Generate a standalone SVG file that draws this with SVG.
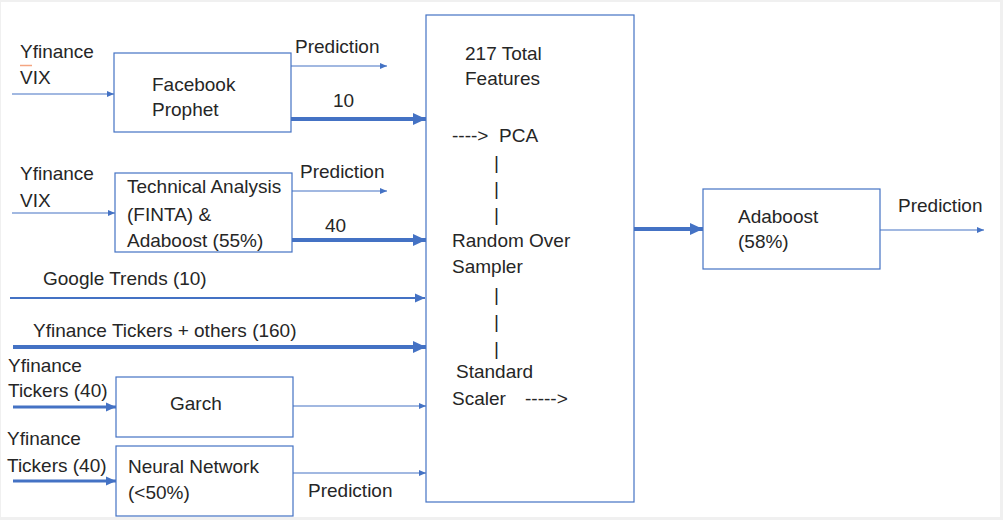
<svg xmlns="http://www.w3.org/2000/svg" width="1003" height="520" viewBox="0 0 1003 520">
<style>
text{font-family:"Liberation Sans",Arial,sans-serif;font-size:19px;fill:#262626}
.box{fill:#fff;stroke:#4472c4;stroke-width:1.2}
.thin{stroke:#4472c4;stroke-width:1.2;fill:none;marker-end:url(#ah1)}
.med{stroke:#4472c4;stroke-width:2.2;fill:none;marker-end:url(#ah2)}
.med3{stroke:#4472c4;stroke-width:3;fill:none;marker-end:url(#ah2)}
.thick{stroke:#4472c4;stroke-width:4;fill:none;marker-end:url(#ah3)}
</style>
<defs>
<marker id="ah1" markerUnits="userSpaceOnUse" markerWidth="8" markerHeight="8" refX="7" refY="4" orient="auto"><path d="M0,1 L7,4 L0,7 Z" fill="#4472c4"/></marker>
<marker id="ah2" markerUnits="userSpaceOnUse" markerWidth="11" markerHeight="11" refX="10" refY="5.5" orient="auto"><path d="M0,1 L10,5.5 L0,10 Z" fill="#4472c4"/></marker>
<marker id="ah3" markerUnits="userSpaceOnUse" markerWidth="14" markerHeight="14" refX="13" refY="7" orient="auto"><path d="M0,1 L13,7 L0,13 Z" fill="#4472c4"/></marker>
</defs>
<rect x="0" y="0" width="1003" height="520" fill="#f0f0f0"/>
<rect x="1" y="2" width="999" height="515" fill="#fff"/>

<g id="connectors">
<line class="thin" x1="12" y1="94" x2="114" y2="94"/>
<line class="thin" x1="291" y1="66" x2="387" y2="66"/>
<line class="thick" x1="291" y1="119" x2="426" y2="119"/>
<line class="thin" x1="12" y1="213" x2="115" y2="213"/>
<line class="thin" x1="292" y1="191" x2="387" y2="191"/>
<line class="thick" x1="292" y1="240" x2="426" y2="240"/>
<line class="med" x1="10" y1="298" x2="425" y2="298"/>
<line class="thick" x1="13" y1="347" x2="426" y2="347"/>
<line class="med3" x1="13" y1="407" x2="116" y2="407"/>
<line class="thin" x1="293" y1="406" x2="426" y2="406"/>
<line class="med3" x1="13" y1="481" x2="116" y2="481"/>
<line class="thin" x1="293" y1="473" x2="426" y2="473"/>
<line class="thick" x1="634" y1="229" x2="703" y2="229"/>
<line class="thin" x1="880" y1="230" x2="984" y2="230"/>
</g>

<g id="labels">
<text x="20" y="58">Yfinance</text>
<line x1="20" y1="65.5" x2="32" y2="65.5" stroke="#f4a582" stroke-width="1.5"/>
<text x="20" y="84">VIX</text>
<text x="295" y="53">Prediction</text>
<text x="333" y="107">10</text>
<text x="20" y="180">Yfinance</text>
<text x="20" y="207">VIX</text>
<text x="300" y="178">Prediction</text>
<text x="325" y="232">40</text>
<text x="43" y="285">Google Trends (10)</text>
<text x="33" y="337">Yfinance Tickers + others (160)</text>
<text x="8" y="372">Yfinance</text>
<text x="8" y="397">Tickers (40)</text>
<text x="7" y="445">Yfinance</text>
<text x="7" y="472">Tickers (40)</text>
<text x="308" y="497">Prediction</text>
<text x="898" y="212">Prediction</text>
</g>

<g id="facebook-prophet">
<rect class="box" x="114" y="53" width="177" height="79"/>
<text x="152" y="91">Facebook</text>
<text x="152" y="116">Prophet</text>
</g>

<g id="technical-analysis">
<rect class="box" x="115" y="173" width="177" height="79"/>
<text x="127" y="193">Technical Analysis</text>
<text x="127" y="221">(FINTA) &amp;</text>
<text x="127" y="247">Adaboost (55%)</text>
</g>

<g id="garch">
<rect class="box" x="116" y="377" width="177" height="60"/>
<text x="170" y="410">Garch</text>
</g>

<g id="neural-network">
<rect class="box" x="116" y="446" width="177" height="70"/>
<text x="128" y="473">Neural Network</text>
<text x="128" y="499">(&lt;50%)</text>
</g>

<g id="features">
<rect class="box" x="426" y="15" width="208" height="487"/>
<text x="465" y="60">217 Total</text>
<text x="465" y="85">Features</text>
<text x="452" y="142">----&gt;</text>
<text x="499" y="142">PCA</text>
<text x="494" y="169">|</text>
<text x="494" y="195">|</text>
<text x="494" y="221">|</text>
<text x="452" y="247">Random Over</text>
<text x="452" y="273">Sampler</text>
<text x="494" y="301">|</text>
<text x="494" y="328">|</text>
<text x="494" y="355">|</text>
<text x="456" y="378">Standard</text>
<text x="452" y="405">Scaler</text>
<text x="525" y="405">-----&gt;</text>
</g>

<g id="adaboost">
<rect class="box" x="703" y="189" width="177" height="80"/>
<text x="738" y="223">Adaboost</text>
<text x="738" y="248">(58%)</text>
</g>
</svg>
